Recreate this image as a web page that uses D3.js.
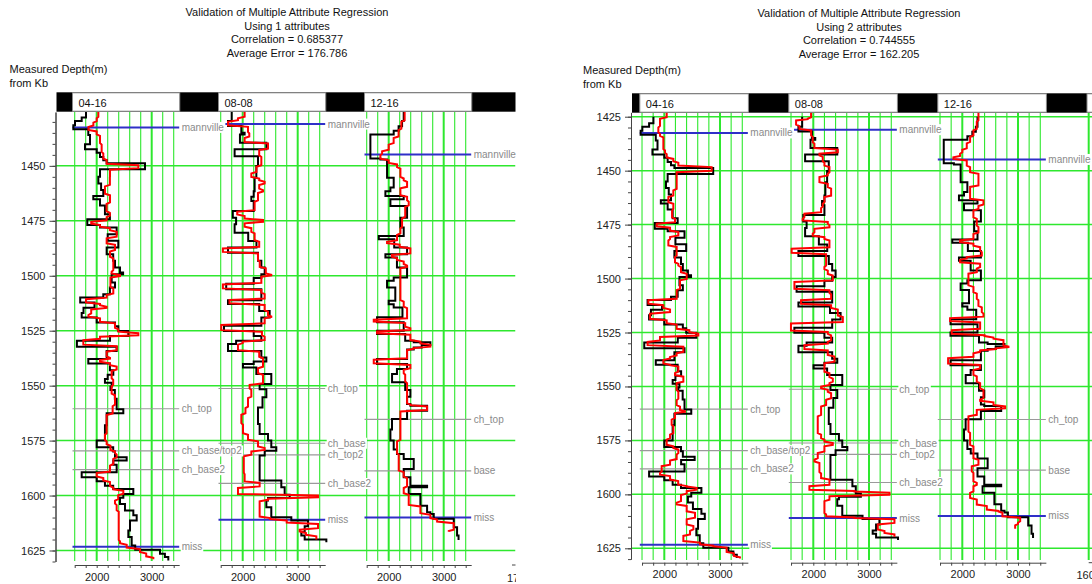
<!DOCTYPE html>
<html>
<head>
<meta charset="utf-8">
<script src="https://cdn.jsdelivr.net/npm/d3@7"></script>
<style>
  html, body { margin: 0; padding: 0; background: #fff; }
  svg { display: block; font-family: "Liberation Sans", Arial, sans-serif; }
</style>
</head>
<body>
<svg id="chart" width="1092" height="584"></svg>
<script>
// ---- Data --------------------------------------------------------------
const wellNames = ["04-16", "08-08", "12-16"];
const attributeCounts = [1, 2];
const correlations = ["0.685377", "0.744555"];
const averageErrors = ["176.786", "162.205"];
const depthGridStep = 25;      // labelled depth ticks (m)
const depthMinorStep = 5;      // minor depth ticks (m)
const velocityTicks = [1600, 1800, 2000, 2200, 2400, 2600, 2800, 3000, 3200, 3400];
const velocityLabels = [2000, 3000];
const velocityDomain = [1600, 3500];

// Measured log, [depth m, value] step points
const actual0416 = [[1425,1805],[1428,1727],[1429.6,1606],[1431.5,1575],[1433.3,1847],[1436,1878],[1440.2,1787],[1442.5,2000],[1444,2060],[1446,2120],[1447.5,2181],[1448.8,2878],[1451.5,2060],[1455,2030],[1458,2080],[1461,2120],[1463.7,1938],[1465.2,2060],[1468,2150],[1472,2240],[1474.3,1829],[1476.9,2060],[1478.1,2363],[1481.1,2200],[1484.1,2393],[1487.2,2181],[1490.2,2300],[1493.2,2333],[1496.3,2424],[1498.5,2480],[1499.3,2272],[1503.1,2333],[1505.4,2240],[1508.4,2120],[1509.9,1700],[1512.2,1960],[1514.5,1760],[1517,1727],[1519,2000],[1521.3,2333],[1523,2393],[1525.1,2575],[1527.4,2242],[1529.6,1640],[1532.3,2363],[1534.2,2181],[1537.9,1847],[1539.9,2240],[1543,2302],[1545,2200],[1547,2150],[1548.7,2272],[1550.5,2250],[1552,2330],[1556,2363],[1560.7,2484],[1562.6,2181],[1568,2150],[1575,2000],[1578,2300],[1580,2333],[1582.6,2545],[1584.1,2302],[1586,2363],[1589.4,1727],[1591.7,2000],[1593.5,2150],[1595.5,2300],[1597,2666],[1599.3,2484],[1601,2424],[1603.8,2514],[1606.8,2666],[1609,2727],[1611.4,2606],[1615.9,2575],[1618.9,2636],[1622.7,2700],[1624.7,3151],[1626.5,3240],[1628,3302],[1629.5,3302]];
const actual0808 = [[1425,1800],[1429.6,1733],[1431.9,1975],[1434.9,2035],[1435.7,1950],[1439.5,2430],[1442.5,1853],[1445.6,2278],[1450.1,2248],[1455.4,2217],[1461.5,2200],[1464,2157],[1466,2200],[1470.5,1820],[1473.6,1880],[1476.6,1853],[1480.4,2100],[1484.2,2250],[1487.2,1733],[1489.5,2278],[1493.2,2339],[1496.3,2400],[1499.3,2339],[1501,2200],[1503.6,1700],[1506.1,2339],[1511.1,1733],[1512.9,2300],[1516,2490],[1519,2339],[1522.8,1660],[1525.1,2200],[1527.4,2339],[1529.6,1880],[1531.1,1733],[1534.2,2339],[1537.2,2430],[1539,2200],[1540.2,2005],[1541.7,2248],[1544.7,2520],[1549.3,2308],[1551.6,2430],[1555.3,2360],[1559.9,2278],[1567.4,2308],[1572,2460],[1575,2520],[1578,2611],[1579.6,2400],[1581.8,2308],[1593.2,2702],[1596.2,2763],[1599.6,2854],[1601.1,2460],[1602.3,2430],[1605.3,2520],[1609.9,2884],[1611.4,3187],[1614,3127],[1616.7,3066],[1618.2,3127],[1620,3521],[1621.2,3521]];
const actual1216 = [[1425,2273],[1429.6,2243],[1432,2180],[1434,2091],[1435.7,1667],[1446.6,1849],[1447.1,1970],[1453.1,1970],[1455.4,2091],[1459.9,2031],[1461.5,1940],[1463.7,2273],[1465.2,2031],[1468.3,2334],[1473.6,2213],[1478.1,2273],[1481.9,1820],[1483.4,2100],[1487.2,2334],[1490.2,1940],[1491.7,2150],[1496.3,2334],[1500.8,2091],[1502.3,1970],[1505.3,2120],[1511.4,2000],[1513,2091],[1514.4,2250],[1518.9,1788],[1521.2,2273],[1525,1788],[1526.5,2300],[1529.6,2455],[1530.3,2758],[1531.5,2600],[1532.6,2455],[1533.5,2334],[1537.9,1788],[1540.2,2334],[1542.4,2150],[1544.7,2061],[1548.5,2300],[1552,2394],[1555,2334],[1558.4,2394],[1559.1,2698],[1561.4,2334],[1565.2,2060],[1570,2031],[1575,2091],[1579,2152],[1581.1,2273],[1583.4,2455],[1587.9,2273],[1591.7,2394],[1595.5,2698],[1596.2,2364],[1599.3,2576],[1604.6,2698],[1607.6,2758],[1608.4,2819],[1610.6,3183],[1614.4,3243],[1618.2,3270],[1620.2,3270]];

// Predicted log using 1 attribute
const pred1_0416 = [[1425,2030],[1428,2000],[1430,1940],[1432,1850],[1434,2000],[1436,2060],[1440,2090],[1444,2120],[1447,2181],[1449.4,2757],[1451.4,2242],[1455,2240],[1459,2150],[1463,2242],[1467,2180],[1471,2240],[1473,2181],[1475.1,1900],[1476.6,2060],[1478,2240],[1479.6,2363],[1482.6,2181],[1485.6,2333],[1488.6,2242],[1491.7,2302],[1497.8,2272],[1499.3,2424],[1500.5,2250],[1505.4,2302],[1508.4,2181],[1510.3,1805],[1512.5,2060],[1513.8,2181],[1515,1900],[1517.5,1850],[1519,2060],[1521.3,2333],[1524,2393],[1525.8,2757],[1527.4,2060],[1529,1757],[1531.7,2363],[1534.2,2181],[1537,2242],[1538,2060],[1539.5,2242],[1541,2363],[1543,2272],[1547,2300],[1550,2272],[1554,2333],[1559,2290],[1563,2181],[1572,2150],[1575,2181],[1577,2250],[1579.6,2333],[1581,2363],[1583,2302],[1586,2242],[1589.4,2000],[1591.7,2120],[1593.5,2242],[1596,2302],[1597.5,2484],[1599.5,2390],[1602,2333],[1604,2363],[1607,2400],[1620.5,2424],[1622,2545],[1624,2787],[1626,2900],[1628,3030],[1629,3030]];
const pred1_0808 = [[1425,2035],[1428,1914],[1429.6,1733],[1431.9,2096],[1434.9,2120],[1437,2035],[1439.5,2460],[1442.5,2300],[1445.6,2339],[1450.1,2250],[1453.1,2157],[1455.4,2300],[1456.9,2399],[1458.4,2300],[1460.7,2369],[1462,2278],[1466,2217],[1470.5,1900],[1472.5,2035],[1474.3,2369],[1475.8,2035],[1478,2157],[1480.4,2217],[1484.2,2300],[1487.2,1640],[1489.5,2278],[1493.2,2310],[1496.3,2420],[1499.3,2520],[1500.1,2339],[1503.6,1640],[1506.1,2339],[1508,2399],[1510.7,1760],[1512.9,2399],[1516,2460],[1518.3,2520],[1519,2399],[1522,1610],[1525.1,2350],[1527.4,2399],[1529.6,2000],[1531,1914],[1534.2,2300],[1537.2,2369],[1540.2,2369],[1541.7,2278],[1544.7,2369],[1549.3,2126],[1551.6,2157],[1555.3,2096],[1559.9,2050],[1562.9,1975],[1567.4,2005],[1572,2096],[1575,2278],[1578,2399],[1579.6,2157],[1581.8,2020],[1590,2035],[1593.9,2308],[1596.2,1914],[1599.6,3369],[1601.1,2460],[1602.3,2308],[1609.9,2500],[1611,2800],[1612.6,3369],[1615.2,3036],[1616.7,3150],[1618.2,3339],[1620,3339]];
const pred1_1216 = [[1425,2290],[1429.6,2230],[1433.4,2180],[1437,2090],[1440,2000],[1443,1880],[1444.8,1849],[1447.1,2000],[1449,2152],[1450.9,2213],[1455.4,2273],[1456.9,2334],[1459.9,2213],[1463.7,2334],[1466,2364],[1468.3,2300],[1473.6,2243],[1478.1,2213],[1481.1,2152],[1484.2,1970],[1485.5,2200],[1487.2,2394],[1490.2,2060],[1491.7,2152],[1493.2,2273],[1495,2334],[1496.3,2213],[1505.3,2213],[1511.4,2273],[1514.4,2334],[1519.7,1728],[1521.2,2300],[1523.5,2394],[1525,1788],[1526.5,2394],[1529.6,2576],[1531.1,2758],[1532.6,2455],[1533.5,2334],[1537.9,1728],[1540.2,2394],[1542.4,2273],[1544.7,2300],[1548.5,2334],[1558.4,2400],[1559.1,2698],[1561.4,2213],[1565.2,2213],[1575,2152],[1581.1,2182],[1587.9,2182],[1589,2273],[1591.7,2334],[1596.2,2273],[1599.3,2364],[1604.6,2576],[1608.4,2758],[1610.6,2880],[1612.2,3183],[1615.9,3092],[1616.5,3092]];

// Predicted log using 2 attributes
const pred2_0416 = [[1423,2043],[1425.6,1923],[1429.6,1893],[1432.6,1923],[1434.2,1983],[1440.3,2013],[1442,2043],[1444.2,2162],[1446,2252],[1448,2850],[1450.4,2222],[1454.2,2222],[1458.8,2162],[1461.9,2073],[1465,2162],[1468.1,2140],[1472,2192],[1474.2,1864],[1476.1,2103],[1478.1,2252],[1480.4,2103],[1482,2073],[1485,2222],[1489.7,2192],[1492.8,2252],[1494.3,2300],[1497.4,2402],[1500.5,2282],[1505,2222],[1509.7,1714],[1512,1983],[1514,2103],[1515.9,1744],[1519,2043],[1521,2222],[1523.6,2450],[1525.2,2611],[1526.7,1923],[1529,1700],[1531.2,2342],[1534.3,2222],[1536,2103],[1537.4,1983],[1539.7,2103],[1540.4,2252],[1543.5,2192],[1545.1,2342],[1548.1,2222],[1552,2252],[1556,2222],[1559,2282],[1561.2,2372],[1562,2192],[1565,2132],[1568.1,2162],[1572,2103],[1574.3,2043],[1577.4,2162],[1578.9,2252],[1581.2,2222],[1584,2103],[1586.6,1953],[1589.7,1923],[1591.2,2103],[1593.5,2250],[1595.9,2402],[1596.6,2581],[1598.2,2402],[1600,2300],[1603.5,2222],[1605,2402],[1608.2,2551],[1611.2,2402],[1614.3,2522],[1616.6,2462],[1618.9,2342],[1622,2641],[1623.5,2880],[1624.3,3119],[1627,3250],[1628.9,3358],[1629.7,3358]];
const pred2_0808 = [[1423,1960],[1425.6,1900],[1426.4,1691],[1429,1751],[1431,1960],[1434,1990],[1437.2,2020],[1439.9,2440],[1441.8,2110],[1443.3,2170],[1446,2200],[1448,2290],[1451.1,2260],[1452.6,2110],[1455.7,2260],[1458,2320],[1461.9,2200],[1465,2170],[1467,2140],[1469.6,1840],[1471.9,1810],[1473.4,2260],[1475,2290],[1476.6,2020],[1478.9,1990],[1480.5,2200],[1482,2290],[1485.8,1611],[1488.4,2230],[1494.3,2200],[1496,2260],[1498.2,2350],[1501.2,1661],[1505.1,2290],[1507,2320],[1509.7,1780],[1512,2320],[1514,2440],[1517.5,2530],[1520.5,1599],[1524.4,2260],[1526,2320],[1529,2260],[1530.5,1840],[1533,2260],[1535.8,2380],[1538.9,2200],[1543.5,2290],[1546,2350],[1548.1,2290],[1549.7,2140],[1551.2,2260],[1552.8,2320],[1555.8,2230],[1558.9,2140],[1563.5,2080],[1572,2140],[1574.3,2200],[1575.9,2350],[1577.4,2200],[1580.5,2080],[1583.6,2020],[1585.1,2110],[1590,2140],[1592.8,2290],[1595.9,1930],[1598.2,2739],[1598.9,3368],[1600.5,2290],[1602.8,2200],[1609,2230],[1610.5,2739],[1611.2,3457],[1613.6,3158],[1616.6,3278],[1618.2,3457],[1619.7,3457]];
const pred2_1216 = [[1423,2290],[1427,2260],[1431,2200],[1434,2140],[1437,2080],[1440,2000],[1441.8,1960],[1443.5,1840],[1444.9,2080],[1448,2140],[1451.1,2290],[1457.2,2140],[1463.4,2380],[1466,2290],[1468.1,2200],[1472,2260],[1475.8,2290],[1479,2200],[1482,1960],[1483.5,2200],[1485.1,2320],[1487.4,2350],[1489.7,2080],[1491,1960],[1492.8,2320],[1495,2260],[1497.4,2110],[1503.5,2200],[1506.6,2260],[1509.7,2290],[1513,2350],[1515.9,2380],[1518,1780],[1520,2320],[1523.6,1810],[1525.9,2400],[1527,2560],[1528.2,2739],[1531.3,2829],[1532,2600],[1533,2320],[1534.3,2200],[1536.6,1745],[1539.7,2320],[1542,2200],[1545,2260],[1548.1,2320],[1551.2,2380],[1555.8,2320],[1557,2560],[1558.9,2769],[1560.5,2260],[1563.5,2110],[1571.2,2140],[1577.4,2200],[1583.6,2290],[1586.6,2170],[1589.7,2200],[1594.3,2260],[1595.9,2200],[1599,2140],[1602,2260],[1605.1,2440],[1607.4,2649],[1608.2,2720],[1610.5,3039],[1612.8,3000],[1614,2949],[1615.9,2949]];

// Formation tops per well, [name, depth m]
const tops0416 = [["mannville",1432.5],["ch_top",1560.5],["ch_base/top2",1579.7],["ch_base2",1588.2],["miss",1623.3]];
const tops0808 = [["mannville",1431],["ch_top",1551.3],["ch_base",1576.2],["ch_top2",1581.5],["ch_base2",1594.5],["miss",1611]];
const tops1216 = [["mannville",1444.8],["ch_top",1565.3],["base",1588.8],["miss",1610]];
const regionalTops = ["mannville", "miss"];

const actualLogs = [actual0416, actual0808, actual1216];
const predictedLogs = [[pred1_0416, pred1_0808, pred1_1216], [pred2_0416, pred2_0808, pred2_1216]];
const wellTops = [tops0416, tops0808, tops1216];

// ---- Layout of the two validation panels -------------------------------
const panels = [
  { left: 0, right: 516, titleX: 287, titleBase: 16, labelX: 9.5, labelBase: 73,
    headerTop: 92.3, headerBottom: 111.7, headerLeft: 56.5, axisX: 55.5, plotRight: 515.5,
    depthDomain: [1425.5, 1630], depthRange: [112, 561.5], plotTop: 112, plotBottom: 561,
    x2000: 96.7, px1000: 55, trackStep: 146, bottomAxisY: 565,
    edge: { text: "1700", x: 507, anchor: "start", dash: [512, 515.5] } },
  { left: 574, right: 1092, titleX: 859, titleBase: 17, labelX: 583, labelBase: 74,
    headerTop: 93.3, headerBottom: 112.7, headerLeft: 632, axisX: 631, plotRight: 1092,
    depthDomain: [1423, 1630], depthRange: [112.4, 559.1], plotTop: 112.7, plotBottom: 560,
    x2000: 664.3, px1000: 55.7, trackStep: 149, bottomAxisY: 562.7,
    edge: { text: "1600", x: 1088.7, anchor: "middle", dash: [1088.7, 1092], box: 1087, grid: 1088.7 } }
];

const GREEN = "#2ee82e", BLUE = "#2f2fc8", GREY_LINE = "#9a9a9a", GREY_TEXT = "#8a8a8a";
const svg = d3.select("#chart");
const defs = svg.append("defs");

// Blocky log trace: value holds until the next sample depth.
// `ramp` (m) slants the jumps a little, as a resampled prediction does.
function stepPath(pairs, x, y, ramp) {
  const pts = [];
  pairs.forEach((p, i) => {
    const next = i < pairs.length - 1 ? pairs[i + 1][0] : null;
    const r = next === null ? 0 : Math.min(ramp, (next - p[0]) / 3);
    pts.push([p[1], i === 0 ? p[0] : p[0] + r]);
    if (next !== null) pts.push([p[1], next - r]);
  });
  return d3.line().x(d => x(d[0])).y(d => y(d[1]))(pts);
}

function drawPanel(cfg, idx) {
  const clipAll = "panelClip" + idx, clipPlot = "plotClip" + idx;
  defs.append("clipPath").attr("id", clipAll).append("rect")
    .attr("x", cfg.left).attr("y", 0).attr("width", cfg.right - cfg.left).attr("height", 584);
  defs.append("clipPath").attr("id", clipPlot).append("rect")
    .attr("x", cfg.axisX).attr("y", cfg.plotTop).attr("width", cfg.plotRight - cfg.axisX).attr("height", cfg.plotBottom - cfg.plotTop);

  const g = svg.append("g").attr("clip-path", `url(#${clipAll})`);
  const y = d3.scaleLinear().domain(cfg.depthDomain).range(cfg.depthRange);
  const xs = wellNames.map((w, k) => {
    const c = cfg.x2000 + k * cfg.trackStep;
    return d3.scaleLinear().domain(velocityDomain)
      .range([c - 0.4 * cfg.px1000, c + 1.5 * cfg.px1000]);
  });

  // Title block
  const titleLines = [
    "Validation of Multiple Attribute Regression",
    `Using ${attributeCounts[idx]} attributes`,
    `Correlation = ${correlations[idx]}`,
    `Average Error = ${averageErrors[idx]}`
  ];
  g.append("g").selectAll("text").data(titleLines).join("text")
    .attr("x", cfg.titleX).attr("y", (d, i) => cfg.titleBase + i * 13.7)
    .attr("text-anchor", "middle").attr("font-size", 11).attr("fill", "#111").text(d => d);

  g.append("text").attr("x", cfg.labelX).attr("y", cfg.labelBase)
    .attr("font-size", 11).attr("fill", "#111").text("Measured Depth(m)");
  g.append("text").attr("x", cfg.labelX).attr("y", cfg.labelBase + 14)
    .attr("font-size", 11).attr("fill", "#111").text("from Kb");

  // Well header strip
  const hh = cfg.headerBottom - cfg.headerTop;
  g.append("rect").attr("x", cfg.headerLeft).attr("y", cfg.headerTop)
    .attr("width", cfg.plotRight - cfg.headerLeft).attr("height", hh).attr("fill", "#000");
  wellNames.forEach((w, k) => {
    const x0 = xs[k](1560), x1 = xs[k](3510);
    g.append("rect").attr("x", x0).attr("y", cfg.headerTop + 0.5).attr("width", x1 - x0)
      .attr("height", hh - 1).attr("fill", "#fff").attr("stroke", "#8a8a8a").attr("stroke-width", 1);
    g.append("text").attr("x", x0 + 6).attr("y", cfg.headerTop + 14.5)
      .attr("font-size", 11).attr("fill", "#111").text(w);
  });
  if (cfg.edge.box !== undefined) {
    g.append("rect").attr("x", cfg.edge.box).attr("y", cfg.headerTop + 0.5).attr("width", 30)
      .attr("height", hh - 1).attr("fill", "#fff").attr("stroke", "#8a8a8a");
  }

  // Plot body
  const body = g.append("g").attr("clip-path", `url(#${clipPlot})`);
  const gridDepths = d3.range(Math.ceil(cfg.depthDomain[0] / depthGridStep) * depthGridStep, cfg.depthDomain[1] + 0.01, depthGridStep);
  body.append("g").selectAll("line").data(gridDepths).join("line")
    .attr("x1", cfg.axisX).attr("x2", cfg.plotRight)
    .attr("y1", d => y(d)).attr("y2", d => y(d))
    .attr("stroke", GREEN).attr("stroke-width", 1.5);
  wellNames.forEach((w, k) => {
    body.append("g").selectAll("line").data(velocityTicks).join("line")
      .attr("x1", d => xs[k](d)).attr("x2", d => xs[k](d))
      .attr("y1", cfg.plotTop).attr("y2", cfg.plotBottom)
      .attr("stroke", GREEN).attr("stroke-width", d => velocityLabels.includes(d) ? 2 : 1.1);
  });
  if (cfg.edge.grid !== undefined) {
    body.append("line").attr("x1", cfg.edge.grid).attr("x2", cfg.edge.grid)
      .attr("y1", cfg.plotTop).attr("y2", cfg.plotBottom).attr("stroke", GREEN).attr("stroke-width", 2);
  }

  // Formation top lines
  wellNames.forEach((w, k) => {
    wellTops[k].forEach(([name, depth]) => {
      const major = regionalTops.includes(name);
      body.append("line").attr("x1", xs[k](1560)).attr("x2", xs[k](3500))
        .attr("y1", y(depth)).attr("y2", y(depth))
        .attr("stroke", major ? BLUE : GREY_LINE).attr("stroke-width", major ? 2 : 1.2);
    });
  });

  // Measured (black) and predicted (red) logs
  wellNames.forEach((w, k) => {
    body.append("path").attr("d", stepPath(actualLogs[k], xs[k], y, 0))
      .attr("fill", "none").attr("stroke", "#000").attr("stroke-width", 2);
    body.append("path").attr("d", stepPath(predictedLogs[idx][k], xs[k], y, 0.35))
      .attr("fill", "none").attr("stroke", "#ff0000").attr("stroke-width", 2);
  });

  // Depth axis
  const minorDepths = d3.range(Math.ceil(cfg.depthDomain[0] / depthMinorStep) * depthMinorStep, cfg.depthDomain[1] + 0.01, depthMinorStep);
  const minorAxis = g.append("g").attr("transform", `translate(${cfg.axisX},0)`)
    .call(d3.axisLeft(y).tickValues(minorDepths).tickSize(3).tickSizeOuter(0).tickFormat(""));
  const majorAxis = g.append("g").attr("transform", `translate(${cfg.axisX},0)`)
    .call(d3.axisLeft(y).tickValues(gridDepths).tickSize(6).tickSizeOuter(0).tickPadding(4)
      .tickFormat(d3.format("d")));
  [minorAxis, majorAxis].forEach(a => {
    a.selectAll("path,line").attr("stroke", "#444");
    a.selectAll("text").attr("font-size", 11).attr("fill", "#222")
      .attr("font-family", '"Liberation Sans", Arial, sans-serif');
  });

  // Velocity axes under each track
  wellNames.forEach((w, k) => {
    const ax = g.append("g").attr("transform", `translate(0,${cfg.bottomAxisY})`)
      .call(d3.axisBottom(xs[k]).tickValues(velocityTicks).tickSize(3).tickSizeOuter(0).tickPadding(5)
        .tickFormat(d => velocityLabels.includes(d) ? d3.format("d")(d) : ""));
    ax.selectAll("path,line").attr("stroke", "#444");
    ax.selectAll("text").attr("font-size", 11).attr("fill", "#222")
      .attr("font-family", '"Liberation Sans", Arial, sans-serif');
  });
  g.append("line").attr("x1", cfg.edge.dash[0]).attr("x2", cfg.edge.dash[1])
    .attr("y1", cfg.bottomAxisY).attr("y2", cfg.bottomAxisY).attr("stroke", "#444");
  g.append("text").attr("x", cfg.edge.x).attr("y", cfg.bottomAxisY + 16.5)
    .attr("text-anchor", cfg.edge.anchor).attr("font-size", 11).attr("fill", "#222").text(cfg.edge.text);

  // Formation top labels on white tabs
  wellNames.forEach((w, k) => {
    wellTops[k].forEach(([name, depth]) => {
      const lg = g.append("g");
      const bg = lg.append("rect").attr("fill", "#fff");
      const t = lg.append("text").attr("x", xs[k](3500) + 2.5).attr("y", y(depth))
        .attr("dy", "0.35em").attr("font-size", 10).attr("fill", GREY_TEXT).text(name);
      const bb = t.node().getBBox();
      bg.attr("x", bb.x - 1).attr("y", bb.y).attr("width", bb.width + 2).attr("height", bb.height);
    });
  });
}

panels.forEach(drawPanel);
</script>
</body>
</html>
